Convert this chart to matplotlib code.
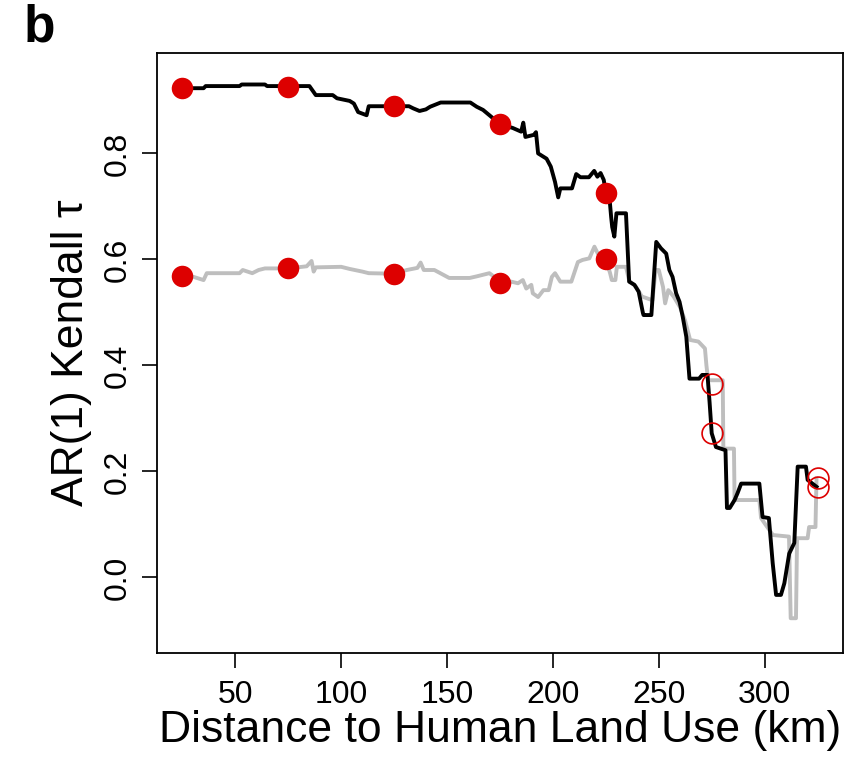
import numpy as np
import matplotlib.pyplot as plt

plt.rcParams['font.family'] = ['Liberation Sans', 'DejaVu Sans']

# AR(1) Kendall tau against distance to human land use (km)
black_x = [25, 35, 36, 52, 53, 64, 65, 85, 88, 96, 98, 104, 106, 108, 110, 112, 113, 125, 132,
           134, 137, 140, 142, 147, 161, 164, 167, 170, 173, 175, 181, 185, 186, 187, 191, 192,
           193, 197, 199, 201, 202.5, 203.5, 209, 211, 213, 217, 219.5, 221, 222.5, 224, 225,
           226.8, 227.5, 228, 229, 230, 234.5, 236, 238.5, 240.5, 242.5, 242.8, 246.5, 248.8,
           251, 253.5, 255, 256.5, 258.2, 259.8, 261.3, 263, 264.5, 269, 270.5, 273, 274, 275,
           277, 281.5, 282.2, 283.5, 285.8, 287.2, 288.9, 297.5, 299, 302, 303.8, 305.4, 307.7,
           309.3, 311.6, 314, 315.6, 319.5, 320.3, 324.5]
black_y = [0.923, 0.923, 0.927, 0.927, 0.930, 0.930, 0.927, 0.927, 0.910, 0.910, 0.904, 0.899,
           0.894, 0.878, 0.875, 0.872, 0.889, 0.889, 0.889, 0.885, 0.880, 0.883, 0.888, 0.896,
           0.896, 0.888, 0.882, 0.872, 0.862, 0.855, 0.848, 0.841, 0.858, 0.831, 0.835, 0.840,
           0.800, 0.790, 0.775, 0.746, 0.717, 0.734, 0.734, 0.761, 0.755, 0.755, 0.767, 0.756,
           0.763, 0.750, 0.726, 0.712, 0.680, 0.661, 0.643, 0.687, 0.687, 0.558, 0.552, 0.539,
           0.499, 0.495, 0.495, 0.633, 0.621, 0.611, 0.580, 0.567, 0.536, 0.520, 0.492, 0.454,
           0.375, 0.375, 0.382, 0.382, 0.330, 0.272, 0.246, 0.240, 0.131, 0.131, 0.146, 0.159,
           0.177, 0.177, 0.114, 0.112, 0.027, -0.033, -0.033, -0.011, 0.045, 0.065, 0.209,
           0.209, 0.184, 0.171]

gray_x = [25, 29.5, 35, 36.5, 52, 53.5, 58, 61, 64, 75, 83.7, 86, 87, 88, 100, 104, 110, 113,
          125, 131, 136, 137.5, 139, 144, 151, 160.7, 164, 170, 173, 175, 180.3, 183.5, 185.8,
          187.4, 189.8, 190.5, 193, 195.5, 198, 199.5, 201, 203.5, 208.7, 211.8, 214, 217.2,
          219.6, 221.2, 225, 227, 227.8, 229.5, 230.2, 234.5, 236, 239.3, 242, 247, 248.5, 250,
          252, 253, 254.5, 257, 260, 262.4, 264.8, 268.7, 271.8, 272.5, 273.3, 280.2, 280.5,
          285.5, 285.8, 297.5, 298.3, 300, 303.9, 311.5, 312.3, 314.8, 315.3, 320.3, 321, 324,
          324.5]
gray_y = [0.567, 0.568, 0.561, 0.574, 0.574, 0.580, 0.574, 0.580, 0.583, 0.583, 0.587, 0.597,
          0.577, 0.585, 0.586, 0.582, 0.577, 0.574, 0.573, 0.580, 0.584, 0.594, 0.580, 0.580,
          0.565, 0.565, 0.568, 0.574, 0.565, 0.556, 0.558, 0.555, 0.561, 0.545, 0.552, 0.536,
          0.529, 0.542, 0.542, 0.567, 0.574, 0.558, 0.558, 0.595, 0.599, 0.602, 0.624, 0.611,
          0.600, 0.574, 0.561, 0.561, 0.586, 0.586, 0.560, 0.548, 0.530, 0.523, 0.580, 0.580,
          0.548, 0.517, 0.542, 0.530, 0.510, 0.485, 0.448, 0.445, 0.432, 0.400, 0.372, 0.372,
          0.243, 0.243, 0.146, 0.146, 0.112, 0.102, 0.080, 0.077, -0.077, -0.077, 0.074, 0.074,
          0.095, 0.095, 0.187]

# window centres with their tau values; filled = significant
pt_x = [25, 75, 125, 175, 225, 275, 325]
pt_black = [0.923, 0.926, 0.889, 0.856, 0.726, 0.272, 0.171]
pt_gray = [0.568, 0.583, 0.573, 0.556, 0.601, 0.364, 0.187]
pt_sig = [True, True, True, True, True, False, False]

fig = plt.figure(figsize=(8.56, 7.57), dpi=100)
ax = fig.add_axes([0.1834, 0.1378, 0.8014, 0.7926])

ax.plot(gray_x, gray_y, color='#bebebe', lw=2.8)
ax.plot(black_x, black_y, color='black', lw=2.8)

px = np.array(pt_x)
sig = np.array(pt_sig)
red = '#dd0000'
for vals in (pt_black, pt_gray):
    v = np.array(vals)
    ax.plot(px[sig], v[sig], 'o', ms=15.5, color=red, mec='none', zorder=3)
    ax.plot(px[~sig], v[~sig], 'o', ms=15, mfc='none', mec=red, mew=1.2, zorder=3)

ax.set_xlim(13, 337)
ax.set_ylim(-0.142, 0.990)
ax.set_xticks([50, 100, 150, 200, 250, 300])
ax.set_yticks([0.0, 0.2, 0.4, 0.6, 0.8])
ax.set_yticklabels(['0.0', '0.2', '0.4', '0.6', '0.8'], rotation=90, va='center')
ax.tick_params(labelsize=23, length=10.5, width=1.2)
ax.tick_params(axis='x', pad=9)
ax.tick_params(axis='y', pad=7)
for s in ax.spines.values():
    s.set_linewidth(1.3)

ax.set_xlabel('Distance to Human Land Use (km)', fontsize=32, labelpad=0)
ax.set_ylabel('AR(1) Kendall τ', fontsize=32, labelpad=8)
fig.text(0.028, 0.995, 'b', fontsize=37, fontweight='bold', va='top')

fig.savefig('out.png', dpi=100)
